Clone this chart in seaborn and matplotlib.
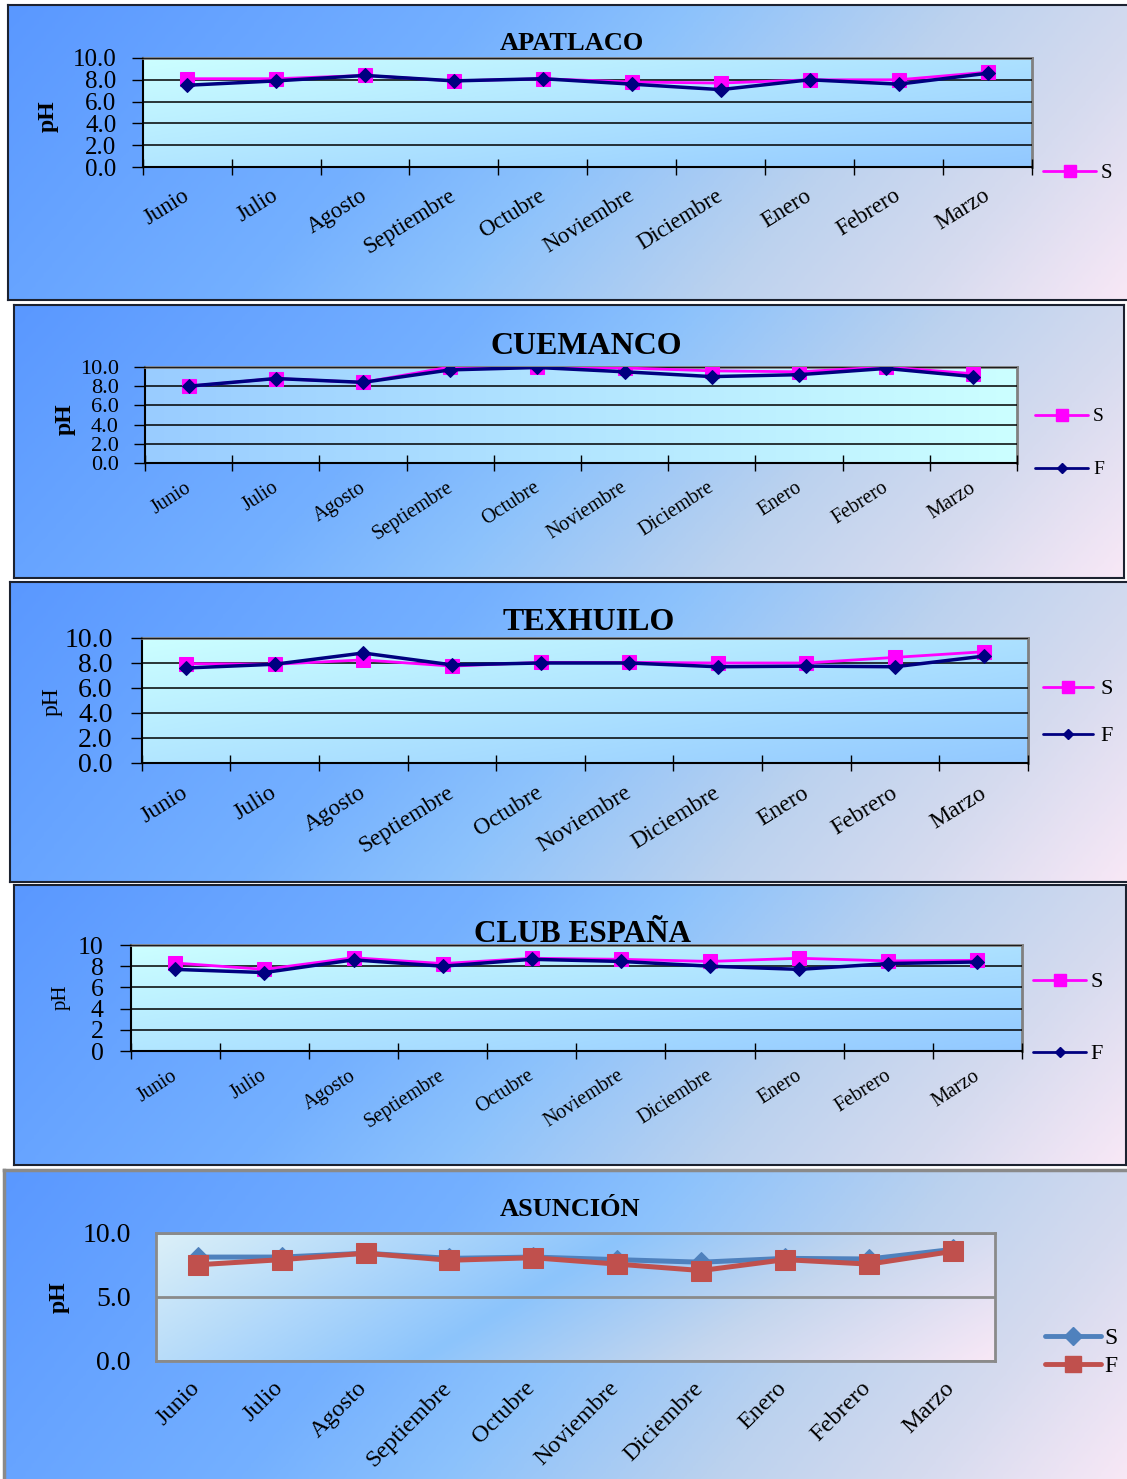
import numpy as np
import pandas as pd
import matplotlib
matplotlib.use("Agg")
import matplotlib.pyplot as plt
import seaborn as sns
from matplotlib.colors import LinearSegmentedColormap
from matplotlib.lines import Line2D
from matplotlib.ticker import FormatStrFormatter
from matplotlib.transforms import ScaledTranslation

# ---- data -------------------------------------------------------------
meses = ["Junio", "Julio", "Agosto", "Septiembre", "Octubre",
         "Noviembre", "Diciembre", "Enero", "Febrero", "Marzo"]

apatlaco_s = [8.1, 8.1, 8.4, 7.9, 8.1, 7.8, 7.7, 8.0, 8.0, 8.7]
apatlaco_f = [7.5, 7.9, 8.4, 7.9, 8.1, 7.6, 7.1, 8.0, 7.6, 8.6]

cuemanco_s = [8.0, 8.8, 8.4, 10.0, 10.0, 9.9, 9.6, 9.5, 10.0, 9.3]
cuemanco_f = [8.0, 8.8, 8.4, 9.7, 9.95, 9.5, 9.0, 9.2, 9.85, 9.0]

texhuilo_s = [7.95, 7.9, 8.25, 7.75, 8.05, 8.05, 8.0, 8.0, 8.45, 8.9]
texhuilo_f = [7.6, 7.9, 8.8, 7.85, 8.0, 8.0, 7.7, 7.75, 7.7, 8.55]

club_s = [8.3, 7.7, 8.8, 8.25, 8.75, 8.65, 8.45, 8.75, 8.5, 8.55]
club_f = [7.7, 7.4, 8.6, 8.0, 8.65, 8.45, 8.0, 7.7, 8.25, 8.4]

asuncion_s = [8.1, 8.1, 8.4, 8.0, 8.1, 7.9, 7.7, 8.0, 7.95, 8.7]
asuncion_f = [7.5, 7.9, 8.4, 7.85, 8.05, 7.55, 7.05, 7.9, 7.55, 8.55]

# ---- figure setup -----------------------------------------------------
W, H = 1127, 1479
sns.set_style("white")
plt.rcParams["font.family"] = ["Liberation Serif", "DejaVu Serif"]
plt.rcParams["text.color"] = "black"

fig = plt.figure(figsize=(W / 100, H / 100), dpi=100, facecolor="white")


def rect(x0, y0, x1, y1):
    return [x0 / W, 1 - y1 / H, (x1 - x0) / W, (y1 - y0) / H]


def fx(x):
    return x / W


def fy(y):
    return 1 - y / H


def grad(wx, wy, nx=400, ny=120):
    xf = np.linspace(0, 1, nx)[None, :]
    yf = np.linspace(0, 1, ny)[:, None]
    return wx * xf + wy * yf


panel_cmap = LinearSegmentedColormap.from_list(
    "panel", [(0, "#5a98ff"), (0.35, "#74b0ff"), (0.5, "#8cc2fc"),
              (0.7, "#bcd2ee"), (0.85, "#d6dbef"), (1, "#f8e8f6")])
face_cyan = LinearSegmentedColormap.from_list("fc", ["#ccffff", "#92c8ff"])
face_rev = LinearSegmentedColormap.from_list("fr", ["#99ccff", "#ccffff"])
face_soft = LinearSegmentedColormap.from_list(
    "fs", [(0, "#dcf0f8"), (0.45, "#8cc4fc"), (0.7, "#c4d6ee"), (1, "#f8e8f6")])

label_shift = ScaledTranslation(6 / 100, 0, fig.dpi_scale_trans)


def panel_box(box, edge, lw):
    ax = fig.add_axes(rect(*box), zorder=0)
    ax.imshow(grad(0.82, 0.18), cmap=panel_cmap, vmin=0, vmax=1,
              aspect="auto", extent=[0, 1, 0, 1], interpolation="bilinear")
    ax.set_xlim(0, 1)
    ax.set_ylim(0, 1)
    ax.set_xticks([])
    ax.set_yticks([])
    for s in ax.spines.values():
        s.set_visible(True)
        s.set_edgecolor(edge)
        s.set_linewidth(lw)
    return ax


def key(x0, x1, y, color, marker, ms, lw, label, fs, tx):
    fig.add_artist(Line2D([fx(x0), fx((x0 + x1) / 2), fx(x1)], [fy(y)] * 3,
                          transform=fig.transFigure, color=color, lw=lw,
                          marker=marker, ms=ms, markevery=[1], mfc=color,
                          mec=color, solid_capstyle="round"))
    fs_px = fs * 100 / 72
    fig.text(fx(tx), fy(y + 0.33 * fs_px), label, fontsize=fs,
             ha="left", va="baseline")


# ---- panels 1-4 (classic style) ---------------------------------------
classic = [
    dict(title="APATLACO", tpos=(572, 50), tfs=19,
         box=(8, 5, 1130, 300), plot=(142.7, 58, 1032, 167),
         s=apatlaco_s, f=apatlaco_f, yt=[0, 2, 4, 6, 8, 10], fmt="%.1f",
         ytfs=18, ypad=11, xfs=16.5, xrot=32, xpad=13,
         face=(face_cyan, 0.55, 0.45),
         ylab=(48, 116, 17, "bold"),
         keys=[("S", 1043, 1096, 171)], kfs=15, ktx=1101),
    dict(title="CUEMANCO", tpos=(586, 354), tfs=23,
         box=(14, 305, 1124, 578), plot=(145, 367, 1017, 463),
         s=cuemanco_s, f=cuemanco_f, yt=[0, 2, 4, 6, 8, 10], fmt="%.1f",
         ytfs=16, ypad=11, xfs=14.5, xrot=33, xpad=11,
         face=(face_rev, 1.0, 0.0),
         ylab=(65, 419, 17, "bold"),
         keys=[("S", 1035, 1088, 415), ("F", 1035, 1088, 468)], kfs=14, ktx=1093),
    dict(title="TEXHUILO", tpos=(589, 630), tfs=23,
         box=(10, 582, 1130, 882), plot=(141.7, 638, 1028, 763),
         s=texhuilo_s, f=texhuilo_f, yt=[0, 2, 4, 6, 8, 10], fmt="%.1f",
         ytfs=20, ypad=13, xfs=17, xrot=32, xpad=14,
         face=(face_cyan, 0.55, 0.45),
         ylab=(52, 702, 17, "normal"),
         keys=[("S", 1043, 1093, 687), ("F", 1043, 1093, 734)], kfs=16, ktx=1100),
    dict(title="CLUB ESPAÑA", tpos=(583, 942), tfs=22.5,
         box=(14, 885, 1126, 1165), plot=(130.7, 945, 1022, 1051),
         s=club_s, f=club_f, yt=[0, 2, 4, 6, 8, 10], fmt="%d",
         ytfs=18.5, ypad=11.5, xfs=14.5, xrot=33, xpad=11,
         face=(face_cyan, 0.55, 0.45),
         ylab=(61, 997, 15, "normal"),
         keys=[("S", 1033, 1086, 980), ("F", 1033, 1086, 1052)], kfs=16, ktx=1090),
]

pos = list(range(len(meses)))
month_axes = []

for p in classic:
    panel_box(p["box"], "#1c2230", 1.5)
    ax = fig.add_axes(rect(*p["plot"]), zorder=1)
    ax.set_facecolor("none")
    cmap, wx, wy = p["face"]
    ax.imshow(grad(wx, wy), cmap=cmap, vmin=0, vmax=1, aspect="auto",
              extent=[-0.5, 9.5, 0, 10], interpolation="bilinear", zorder=0)

    df = pd.DataFrame({"pos": pos, "S": p["s"], "F": p["f"]})
    sns.lineplot(data=df, x="pos", y="S", ax=ax, color="#ff00ff", lw=2,
                 marker="s", markersize=10, mfc="#ff00ff", mec="#ff00ff",
                 legend=False, zorder=3)
    sns.lineplot(data=df, x="pos", y="F", ax=ax, color="#000080", lw=2.5,
                 marker="D", markersize=7.5, mfc="#000080", mec="#000080",
                 legend=False, zorder=4)

    ax.set_xlim(-0.5, 9.5)
    ax.set_ylim(0, 10)
    ax.set_xlabel("")
    ax.set_ylabel("")
    ax.set_yticks(p["yt"])
    ax.yaxis.set_major_formatter(FormatStrFormatter(p["fmt"]))
    ax.yaxis.grid(True, color="black", lw=1.1)
    ax.xaxis.grid(False)
    ax.set_axisbelow(False)
    ax.set_xticks(pos)
    ax.set_xticklabels(meses, rotation=p["xrot"], ha="right", fontsize=p["xfs"])
    ax.set_xticks(np.arange(-0.5, 10, 1), minor=True)
    ax.tick_params(axis="x", which="major", length=0, pad=p["xpad"],
                   labelcolor="black", bottom=True)
    ax.tick_params(axis="x", which="minor", direction="inout", length=12,
                   width=1, color="black", bottom=True)
    ax.tick_params(axis="y", direction="out", length=8, width=1,
                   color="black", labelsize=p["ytfs"], pad=p["ypad"],
                   labelcolor="black", left=True)
    for side in ("left", "bottom"):
        ax.spines[side].set_color("black")
        ax.spines[side].set_linewidth(1.5)
    for side in ("top", "right"):
        ax.spines[side].set_color("#808080")
        ax.spines[side].set_linewidth(2)
    month_axes.append(ax)

    fig.text(fx(p["tpos"][0]), fy(p["tpos"][1]), p["title"],
             fontsize=p["tfs"], fontweight="bold", ha="center", va="baseline")
    lx, ly, lfs, lw_ = p["ylab"]
    fig.text(fx(lx), fy(ly), "pH", fontsize=lfs, fontweight=lw_,
             rotation=90, ha="center", va="center")

    for lab, x0, x1, y in p["keys"]:
        if lab == "S":
            key(x0, x1, y, "#ff00ff", "s", 9, 2, "S", p["kfs"], p["ktx"])
        else:
            key(x0, x1, y, "#000080", "D", 5.5, 2, "F", p["kfs"], p["ktx"])

# ---- panel 5 (ASUNCIÓN) -----------------------------------------------
panel_box((4, 1170, 1130, 1482), "#8a8a8a", 2.5)
ax = fig.add_axes(rect(155.7, 1232.7, 995, 1361), zorder=1)
ax.set_facecolor("none")
ax.imshow(grad(0.8, 0.2), cmap=face_soft, vmin=0, vmax=1, aspect="auto",
          extent=[-0.5, 9.5, 0, 10], interpolation="bilinear", zorder=0)

df5 = pd.DataFrame({"pos": pos, "S": asuncion_s, "F": asuncion_f})
sns.lineplot(data=df5, x="pos", y="S", ax=ax, color="#4f81bd", lw=3.6,
             marker="D", markersize=10, mfc="#4f81bd", mec="#4f81bd",
             legend=False, zorder=3)
sns.lineplot(data=df5, x="pos", y="F", ax=ax, color="#c0504d", lw=3.6,
             marker="s", markersize=14, mfc="#c0504d", mec="#c0504d",
             legend=False, zorder=4)
ax.set_xlim(-0.5, 9.5)
ax.set_ylim(0, 10)
ax.set_xlabel("")
ax.set_ylabel("")
ax.set_yticks([0, 5, 10])
ax.yaxis.set_major_formatter(FormatStrFormatter("%.1f"))
ax.yaxis.grid(True, color="#8a8a8a", lw=2)
ax.xaxis.grid(False)
ax.set_axisbelow(False)
ax.set_xticks(pos)
ax.set_xticklabels(meses, rotation=45, ha="right", fontsize=17.5)
ax.tick_params(axis="x", length=0, pad=12, labelcolor="black")
ax.tick_params(axis="y", length=0, pad=18, labelsize=20, labelcolor="black")
for s in ax.spines.values():
    s.set_color("#8a8a8a")
    s.set_linewidth(2)
month_axes.append(ax)

fig.text(fx(570), fy(1216), "ASUNCIÓN", fontsize=19, fontweight="bold",
         ha="center", va="baseline")
fig.text(fx(59), fy(1297), "pH", fontsize=17, fontweight="bold",
         rotation=90, ha="center", va="center")
key(1045, 1101, 1336, "#4f81bd", "D", 9, 3.5, "S", 17, 1104)
key(1045, 1101, 1364, "#c0504d", "s", 12, 3.5, "F", 17, 1104)

# nudge the rotated month names so their ends sit just right of each point
for a in month_axes:
    for lbl in a.get_xticklabels():
        lbl.set_transform(lbl.get_transform() + label_shift)

fig.savefig("out.png", dpi=100, facecolor="white")
